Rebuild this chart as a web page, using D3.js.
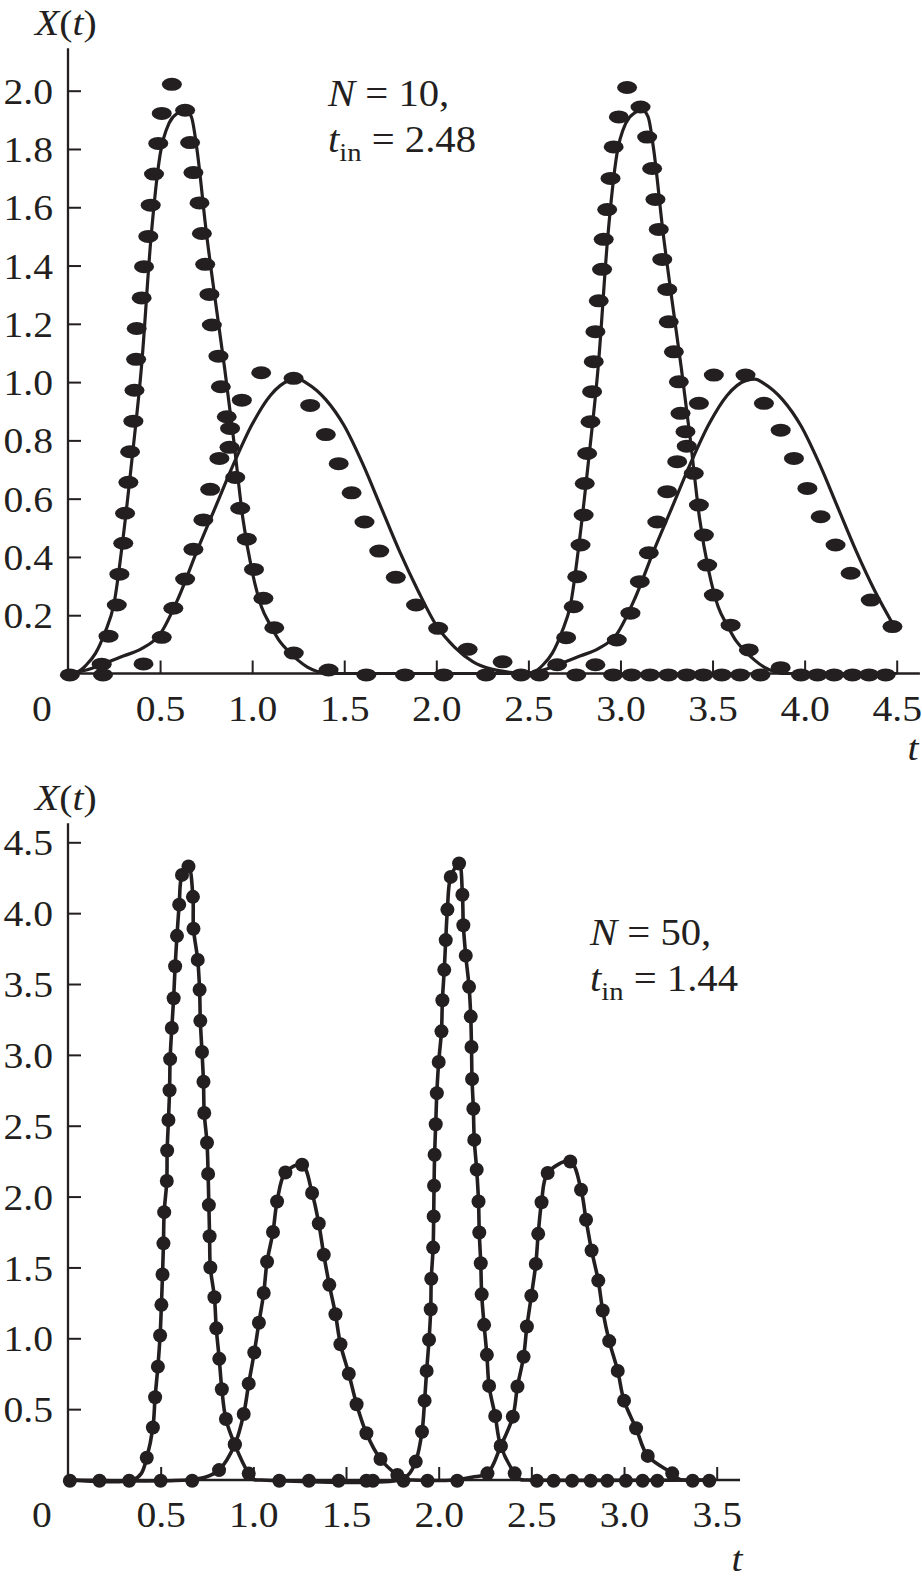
<!DOCTYPE html>
<html><head><meta charset="utf-8">
<script src="https://cdn.jsdelivr.net/npm/d3@7/dist/d3.min.js"></script>
<style>
html,body{margin:0;padding:0;background:#fff;}
svg{display:block;}
text{font-family:"Liberation Serif","Times New Roman",serif;fill:#231f20;}
</style></head><body>
<svg id="chart" width="922" height="1584"></svg>
<script>
// ================= DATA =================
// ---- Top panel: N = 10, t_in = 2.48 ----
const topXTicks = [0.5, 1.0, 1.5, 2.0, 2.5, 3.0, 3.5, 4.0, 4.5];
const topYTicks = [0.2, 0.4, 0.6, 0.8, 1.0, 1.2, 1.4, 1.6, 1.8, 2.0];
const topNote = ["10", "2.48"];

// solid (exact) curves, [t, X]
const topNarrowLine = [
  [0,0],[0.05,0.005],[0.10,0.03],[0.15,0.07],[0.20,0.14],[0.25,0.24],[0.30,0.47],[0.35,0.75],[0.40,1.06],[0.45,1.49],
  [0.50,1.78],[0.55,1.89],[0.60,1.925],[0.635,1.935],[0.67,1.91],[0.70,1.80],[0.75,1.52],[0.80,1.28],[0.85,1.05],[0.90,0.80],
  [0.95,0.53],[1.00,0.35],[1.05,0.23],[1.10,0.165],[1.15,0.11],[1.20,0.075],[1.25,0.045],[1.30,0.022],[1.35,0.008],[1.40,0],
  [2.48,0],[2.53,0.005],[2.58,0.03],[2.63,0.07],[2.68,0.14],[2.73,0.24],[2.78,0.47],[2.83,0.75],[2.88,1.06],[2.93,1.49],
  [2.98,1.78],[3.03,1.89],[3.08,1.925],[3.115,1.935],[3.15,1.91],[3.18,1.80],[3.23,1.52],[3.28,1.28],[3.33,1.05],[3.38,0.80],
  [3.43,0.53],[3.48,0.35],[3.53,0.23],[3.58,0.165],[3.63,0.11],[3.68,0.075],[3.73,0.045],[3.78,0.022],[3.83,0.008],[3.88,0],
  [4.5,0]
];
const topBroadLine = [
  [0,0],[0.1,0.012],[0.2,0.035],[0.3,0.06],[0.4,0.085],[0.5,0.135],[0.6,0.26],[0.7,0.42],[0.8,0.57],[0.9,0.72],
  [1.0,0.855],[1.1,0.955],[1.2,1.005],[1.25,1.01],[1.3,0.995],[1.4,0.94],[1.5,0.85],[1.6,0.72],[1.7,0.57],[1.8,0.42],
  [1.9,0.285],[2.0,0.165],[2.1,0.09],[2.2,0.04],[2.3,0.015],[2.4,0.004],[2.48,0],
  [2.58,0.012],[2.68,0.035],[2.78,0.06],[2.88,0.085],[2.98,0.135],[3.08,0.26],[3.18,0.42],[3.28,0.57],[3.38,0.72],
  [3.48,0.855],[3.58,0.955],[3.68,1.005],[3.73,1.01],[3.78,0.995],[3.88,0.94],[3.98,0.85],[4.08,0.72],[4.18,0.57],[4.28,0.42],
  [4.38,0.285],[4.49,0.158]
];
// dotted (approximate) curves, [t, X]
const topNarrowDots = [
  [0.183,0.032],[0.22,0.128],[0.265,0.235],[0.279,0.341],[0.30,0.447],[0.31,0.55],[0.328,0.656],[0.337,0.761],[0.355,0.866],[0.361,0.972],
  [0.37,1.078],[0.373,1.184],[0.40,1.289],[0.413,1.396],[0.436,1.50],[0.449,1.607],[0.467,1.714],[0.49,1.819],[0.509,1.922],[0.564,2.022],
  [0.636,1.933],[0.663,1.822],[0.681,1.719],[0.714,1.615],[0.727,1.51],[0.745,1.404],[0.768,1.301],[0.781,1.196],[0.817,1.089],[0.83,0.984],
  [0.862,0.881],[0.877,0.776],[0.908,0.673],[0.935,0.567],[0.971,0.461],[1.01,0.357],[1.061,0.258],[1.12,0.157],[1.226,0.07],[1.415,0.012],
  [2.656,0.03],[2.705,0.123],[2.746,0.229],[2.765,0.332],[2.783,0.441],[2.80,0.544],[2.806,0.652],[2.819,0.755],[2.837,0.864],[2.846,0.967],
  [2.855,1.07],[2.864,1.173],[2.882,1.279],[2.90,1.387],[2.909,1.49],[2.928,1.592],[2.946,1.699],[2.963,1.807],[2.991,1.91],[3.036,2.011],
  [3.109,1.944],[3.145,1.841],[3.172,1.733],[3.19,1.627],[3.208,1.524],[3.227,1.421],[3.254,1.318],[3.262,1.207],[3.29,1.104],[3.317,1.001],
  [3.326,0.893],[3.36,0.78],[3.398,0.687],[3.426,0.578],[3.453,0.475],[3.471,0.372],[3.507,0.269],[3.598,0.166],[3.697,0.081],[3.87,0.02]
];
const topBroadDots = [
  [0.41,0.033],[0.509,0.124],[0.572,0.224],[0.636,0.324],[0.681,0.426],[0.735,0.527],[0.772,0.632],[0.822,0.738],[0.88,0.841],[0.944,0.938],
  [1.049,1.032],[1.225,1.013],[1.315,0.92],[1.40,0.82],[1.47,0.72],[1.54,0.62],[1.61,0.52],[1.69,0.42],[1.78,0.33],[1.89,0.235],
  [2.01,0.155],[2.17,0.083],[2.36,0.04],
  [2.864,0.03],[2.98,0.115],[3.054,0.207],[3.105,0.315],[3.154,0.414],[3.20,0.52],[3.254,0.624],[3.308,0.727],[3.353,0.83],[3.426,0.927],
  [3.507,1.024],[3.679,1.024],[3.779,0.927],[3.87,0.835],[3.942,0.738],[4.015,0.635],[4.087,0.538],[4.168,0.441],[4.25,0.344],[4.359,0.252],
  [4.477,0.161]
];
const topBaselineDots = [0.01,0.19,1.62,1.83,2.04,2.27,2.46,2.56,2.76,2.96,3.06,3.16,3.26,3.36,3.45,3.55,3.65,3.76,3.98,4.07,4.16,4.26,4.35,4.44];

// ---- Bottom panel: N = 50, t_in = 1.44 ----
const bottomXTicks = [0.5, 1.0, 1.5, 2.0, 2.5, 3.0, 3.5];
const bottomYTicks = [0.5, 1.0, 1.5, 2.0, 2.5, 3.0, 3.5, 4.0, 4.5];
const bottomNote = ["50", "1.44"];

const bottomNarrowDots1 = [
  [0.425,0.157],[0.458,0.37],[0.47,0.584],[0.485,0.80],[0.497,1.02],[0.504,1.236],[0.51,1.45],[0.515,1.67],[0.519,1.89],[0.533,2.11],
  [0.535,2.325],[0.542,2.54],[0.548,2.75],[0.551,2.97],[0.56,3.19],[0.57,3.40],[0.578,3.625],[0.588,3.84],[0.60,4.06],[0.615,4.27],
  [0.65,4.33],[0.674,4.115],[0.677,3.89],[0.70,3.67],[0.71,3.46],[0.714,3.24],[0.723,3.02],[0.731,2.81],[0.735,2.59],[0.75,2.38],
  [0.756,2.16],[0.76,1.94],[0.764,1.72],[0.768,1.50],[0.79,1.29],[0.80,1.07],[0.816,0.855],[0.83,0.64],[0.852,0.43],[0.90,0.25],
  [0.975,0.045]
];
const bottomNarrowDots2 = [
  [1.876,0.13],[1.91,0.34],[1.924,0.56],[1.935,0.77],[1.948,0.99],[1.957,1.205],[1.96,1.42],[1.97,1.64],[1.973,1.86],[1.975,2.076],
  [1.978,2.295],[1.984,2.51],[1.99,2.73],[2.0,2.95],[2.015,3.166],[2.02,3.385],[2.03,3.60],[2.038,3.81],[2.047,4.025],[2.065,4.256],
  [2.11,4.35],[2.128,4.13],[2.133,3.915],[2.146,3.70],[2.164,3.48],[2.173,3.27],[2.177,3.056],[2.18,2.83],[2.187,2.62],[2.192,2.40],
  [2.205,2.19],[2.215,1.965],[2.219,1.746],[2.227,1.53],[2.232,1.31],[2.245,1.095],[2.26,0.883],[2.272,0.664],[2.305,0.452],[2.335,0.24],
  [2.41,0.047]
];
const bottomBroadDots1 = [
  [0.815,0.07],[0.90,0.25],[0.948,0.466],[0.975,0.68],[1.005,0.90],[1.03,1.11],[1.056,1.32],[1.074,1.54],[1.106,1.75],[1.128,1.965],
  [1.173,2.17],[1.263,2.225],[1.317,2.025],[1.353,1.81],[1.38,1.59],[1.41,1.377],[1.443,1.17],[1.47,0.958],[1.515,0.75],[1.557,0.535],
  [1.61,0.33],[1.686,0.148],[1.777,0.035]
];
const bottomBroadDots2 = [
  [2.263,0.047],[2.335,0.24],[2.40,0.447],[2.425,0.66],[2.458,0.87],[2.476,1.083],[2.50,1.30],[2.524,1.525],[2.537,1.737],[2.555,1.96],
  [2.588,2.166],[2.71,2.248],[2.768,2.048],[2.795,1.836],[2.825,1.62],[2.861,1.407],[2.885,1.196],[2.92,0.98],[2.966,0.77],[3.00,0.56],
  [3.065,0.365],[3.128,0.17],[3.26,0.047]
];
const bottomBaselineDots = [0.01,0.17,0.33,0.50,0.67,1.14,1.30,1.46,1.61,1.645,1.81,1.94,2.10,2.53,2.62,2.72,2.82,2.91,3.01,3.10,3.18,3.37,3.46];

// baseline anchors where the solid curves lie on the axis
const bottomNarrowLine = [[0,0],[0.35,0],[0.395,0.045], ...bottomNarrowDots1, [1.0,0.005],[1.04,0],[1.79,0],[1.835,0.035],
  ...bottomNarrowDots2, [2.44,0.005],[2.48,0],[3.46,0]];
const bottomBroadLine = [[0,0],[0.64,0],[0.74,0.02], ...bottomBroadDots1, [1.82,0.004],[1.86,0],[2.08,0],[2.18,0.02],
  ...bottomBroadDots2, [3.30,0.004],[3.34,0],[3.46,0]];

// ================= DRAWING =================
const ink = "#231f20";
const FS = 36, SX = 1.1;
const svg = d3.select("#chart");

function drawPanel(o) {
  const x = d3.scaleLinear().domain([0, o.xTickMax]).range([68, o.xTickMaxPx]);
  const y = d3.scaleLinear().domain([0, o.yTickMax]).range([o.y0, o.yTickMaxPx]);
  const g = svg.append("g");

  // axes lines
  g.append("line").attr("x1", x(0)).attr("x2", x(0)).attr("y1", y(0)).attr("y2", y(o.yAxisEnd))
    .attr("stroke", ink).attr("stroke-width", 2.3);
  g.append("line").attr("x1", x(0) - 1).attr("x2", x(o.xAxisEnd)).attr("y1", y(0)).attr("y2", y(0))
    .attr("stroke", ink).attr("stroke-width", 2.3);

  // y axis
  const ya = g.append("g").attr("transform", `translate(${x(0)},0)`)
    .call(d3.axisLeft(y).tickValues(o.yTicks).tickSize(-13).tickSizeOuter(0).tickFormat(d3.format(".1f")));
  ya.select(".domain").remove();
  ya.attr("font-family", null).attr("font-size", null);
  ya.selectAll(".tick line").attr("stroke", ink).attr("stroke-width", 2);
  ya.selectAll(".tick text").attr("x", null).attr("dy", "0.35em").attr("fill", ink)
    .attr("font-size", FS).attr("text-anchor", "end")
    .attr("transform", `translate(-15,0) scale(${SX},1)`);

  // x axis
  const xa = g.append("g").attr("transform", `translate(0,${y(0)})`)
    .call(d3.axisBottom(x).tickValues(o.xTicks).tickSize(-13).tickSizeOuter(0).tickFormat(d3.format(".1f")));
  xa.select(".domain").remove();
  xa.attr("font-family", null).attr("font-size", null);
  xa.selectAll(".tick line").attr("stroke", ink).attr("stroke-width", 2);
  xa.selectAll(".tick text").attr("y", null).attr("dy", null).attr("fill", ink)
    .attr("font-size", FS).attr("text-anchor", "middle")
    .attr("transform", `translate(0,${o.xLabelDy}) scale(${SX},1)`);

  // origin label "0"
  g.append("text").attr("font-size", FS).attr("text-anchor", "middle")
    .attr("transform", `translate(42,${y(0) + o.xLabelDy}) scale(${SX},1)`).text("0");

  // axis titles
  const yl = g.append("text").attr("font-size", FS)
    .attr("transform", `translate(35,${o.yTitleY}) scale(${SX},1)`);
  yl.append("tspan").attr("font-style", "italic").text("X");
  yl.append("tspan").text("(");
  yl.append("tspan").attr("font-style", "italic").text("t");
  yl.append("tspan").text(")");
  g.append("text").attr("font-size", FS).attr("font-style", "italic").attr("text-anchor", "middle")
    .attr("transform", `translate(${o.tTitleX},${o.tTitleY}) scale(${SX},1)`).text("t");

  // annotation
  const n1 = g.append("text").attr("font-size", 37)
    .attr("transform", `translate(${o.noteX},${o.noteY}) scale(${SX},1)`);
  n1.append("tspan").attr("font-style", "italic").text("N");
  n1.append("tspan").text(" = " + o.note[0] + ",");
  const n2 = g.append("text").attr("font-size", 37)
    .attr("transform", `translate(${o.noteX},${o.noteY + 46}) scale(${SX},1)`);
  n2.append("tspan").attr("font-style", "italic").text("t");
  n2.append("tspan").attr("font-size", 26).attr("dy", 9).text("in");
  n2.append("tspan").attr("dy", -9).text(" = " + o.note[1]);

  return {g, x, y};
}

// ---------- TOP ----------
{
  const {g, x, y} = drawPanel({
    xTicks: topXTicks, yTicks: topYTicks, xTickMax: 4.5, xTickMaxPx: 896.7,
    yTickMax: 2.0, y0: 673.5, yTickMaxPx: 90.7, yAxisEnd: 2.146, xAxisEnd: 4.626,
    xLabelDy: 47, yTitleY: 35, tTitleX: 913, tTitleY: 760,
    note: topNote, noteX: 328, noteY: 106
  });
  const line = d3.line().x(d => x(d[0])).y(d => y(d[1])).curve(d3.curveMonotoneX);
  [topNarrowLine, topBroadLine].forEach(s =>
    g.append("path").attr("d", line(s)).attr("fill", "none").attr("stroke", ink).attr("stroke-width", 3.2));
  const dots = topNarrowDots.concat(topBroadDots).concat(topBaselineDots.map(t => [t, -0.005]));
  g.append("g").selectAll("ellipse").data(dots).join("ellipse")
    .attr("cx", d => x(d[0])).attr("cy", d => y(d[1])).attr("rx", 10).attr("ry", 6.5).attr("fill", ink);
}

// ---------- BOTTOM ----------
{
  const {g, x, y} = drawPanel({
    xTicks: bottomXTicks, yTicks: bottomYTicks, xTickMax: 3.5, xTickMaxPx: 716.7,
    yTickMax: 4.5, y0: 1480, yTickMaxPx: 842.3, yAxisEnd: 4.634, xAxisEnd: 3.626,
    xLabelDy: 47, yTitleY: 810, tTitleX: 737, tTitleY: 1571,
    note: bottomNote, noteX: 590, noteY: 945
  });
  const line = d3.line().x(d => x(d[0])).y(d => y(d[1])).curve(d3.curveCatmullRom.alpha(0.5));
  [bottomNarrowLine, bottomBroadLine].forEach(s =>
    g.append("path").attr("d", line(s)).attr("fill", "none").attr("stroke", ink).attr("stroke-width", 3.6));
  const dots = bottomNarrowDots1.concat(bottomNarrowDots2, bottomBroadDots1, bottomBroadDots2,
    bottomBaselineDots.map(t => [t, -0.005]));
  g.append("g").selectAll("circle").data(dots).join("circle")
    .attr("cx", d => x(d[0])).attr("cy", d => y(d[1])).attr("r", 7).attr("fill", ink);
}
</script>
</body></html>
